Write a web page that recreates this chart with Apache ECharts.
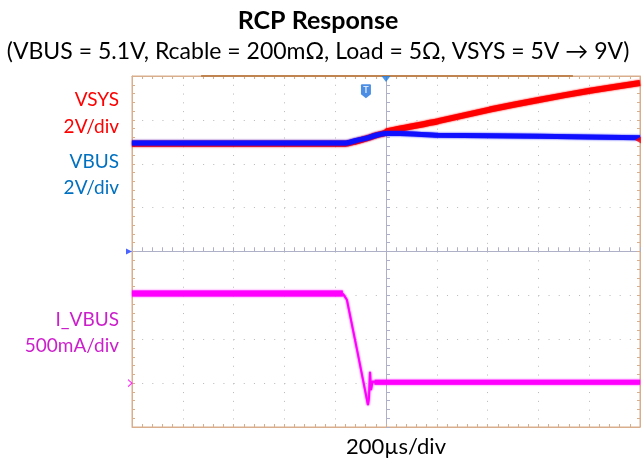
<!DOCTYPE html>
<html>
<head>
<meta charset="utf-8">
<title>RCP Response</title>
<script src="https://cdn.jsdelivr.net/npm/echarts@6/dist/echarts.min.js"></script>
<style>
    html, body { margin: 0; padding: 0; background: #fff; }
    #chart { width: 642px; height: 465px; }
</style>
</head>
<body>
<div id="chart"></div>
<script>
// Time axis in µs: 10 divisions of 200µs, trigger at 0
const timeRange = [-1000, 1000];
const timeStep = 200;
// Voltage channels: 2V/div, ground on the centre line
const voltRange = [-8, 8];
const voltStep = 2;
// Current channel: 500mA/div, ground 3 divisions below centre
const ampRange = [-0.5, 3.5];
const ampStep = 0.5;

// [time µs, volts]
const vsysTrace = [
    [-1000, 4.91], [-160, 4.91], [-120, 5.01], [-80, 5.14], [-40, 5.29], [0, 5.42],
    [4, 5.48], [205, 5.94], [409, 6.47], [606, 6.92], [803, 7.33], [1000, 7.68]
];
const vbusTrace = [
    [-1000, 4.95], [-157, 4.95], [-118, 5.06], [-75, 5.17], [-35, 5.31], [0, 5.38],
    [55, 5.38], [205, 5.30], [606, 5.25], [1000, 5.18]
];
// [time µs, amps]
const ibusBefore = [[-1000, 1.02], [-170, 1.02]];
const ibusStep = [
    [-170, 1.02], [-154, 0.95], [-112, 0.35], [-71, -0.25], [-67, -0.17],
    [-63, 0.13], [-59, -0.08], [-53, 0.02], [-43, 0.01]
];
const ibusAfter = [[-45, 0.01], [1000, 0.01]];

// scope decorations
const recordWindow = [[-728, 8], [736, 8]];
const triggerLevel = 5.08;
const triggerIconAt = [-79, 7.3];

const chartEl = document.getElementById('chart');
const chart = echarts.init(chartEl, null, { renderer: 'canvas' });

const centreColor = '#aeb0c8';
const frameColor = '#d9ae8c';
const dotColor = '#b8b8b8';
const font = 'Lato, "Noto Sans", sans-serif';

function traceSeries(name, data, color, width, yAxisIndex, smooth) {
    return {
        name: name,
        type: 'line',
        data: data,
        xAxisIndex: 0,
        yAxisIndex: yAxisIndex,
        showSymbol: false,
        symbol: 'none',
        smooth: smooth || false,
        silent: true,
        z: 5,
        lineStyle: {
            color: color,
            width: width,
            shadowColor: color,
            shadowBlur: 2
        }
    };
}

function marker(data, symbol, size, rotate, offset, color, yAxisIndex, extra) {
    return Object.assign({
        type: 'scatter',
        data: data,
        xAxisIndex: 0,
        yAxisIndex: yAxisIndex,
        symbol: symbol,
        symbolSize: size,
        symbolRotate: rotate,
        symbolOffset: offset,
        clip: false,
        silent: true,
        z: 8,
        itemStyle: { color: color }
    }, extra || {});
}

// centre cross: axis line + ticks on one side; the twin axis adds ticks on the other side
function centreAxis(range, step, inside, split, dash) {
    return {
        type: 'value',
        min: range[0],
        max: range[1],
        interval: step,
        axisLine: { show: true, onZero: true, onZeroAxisIndex: 0, lineStyle: { color: centreColor, width: 1 } },
        axisTick: { show: true, inside: inside, length: 4, lineStyle: { color: centreColor } },
        minorTick: { show: true, splitNumber: 5, length: 4, lineStyle: { color: centreColor } },
        axisLabel: { show: false },
        splitLine: { show: split, lineStyle: { color: dotColor, width: 1, type: dash } }
    };
}

function frameAxis(range, step, position) {
    return {
        type: 'value',
        position: position,
        min: range[0],
        max: range[1],
        interval: step,
        axisLine: { show: true, onZero: false, lineStyle: { color: frameColor, width: 1 } },
        axisTick: { show: true, inside: true, length: 3, lineStyle: { color: frameColor } },
        minorTick: { show: true, splitNumber: 5, length: 3, lineStyle: { color: frameColor } },
        axisLabel: { show: false },
        splitLine: { show: false }
    };
}

function label(text, x, y, color, size, weight, align) {
    return {
        type: 'text',
        x: x,
        y: y,
        silent: true,
        style: {
            text: text,
            fill: color,
            font: (weight || 'normal') + ' ' + size + 'px ' + font,
            textAlign: align || 'right',
            textVerticalAlign: 'middle'
        }
    };
}

const option = {
    animation: false,
    backgroundColor: '#ffffff',
    grid: { left: 132, right: 2, top: 76, bottom: 38, show: true, borderColor: frameColor, borderWidth: 1 },
    xAxis: [
        centreAxis(timeRange, timeStep, true, true, [1, 7.78]),
        centreAxis(timeRange, timeStep, false, false, 'solid'),
        frameAxis(timeRange, timeStep, 'top'),
        frameAxis(timeRange, timeStep, 'bottom')
    ],
    yAxis: [
        centreAxis(voltRange, voltStep, true, true, [1, 9.16]),
        centreAxis(voltRange, voltStep, false, false, 'solid'),
        frameAxis(voltRange, voltStep, 'left'),
        frameAxis(voltRange, voltStep, 'right'),
        { type: 'value', show: false, min: ampRange[0], max: ampRange[1], interval: ampStep }
    ],
    graphic: [
        label('RCP Response', 318, 21, '#000000', 25, 'bold', 'center'),
        label('(VBUS = 5.1V, Rcable = 200mΩ, Load = 5Ω, VSYS = 5V → 9V)', 318, 52, '#000000', 23, 'normal', 'center'),
        label('VSYS', 119, 100, '#ff0000', 19),
        label('2V/div', 119, 127, '#ff0000', 19),
        label('VBUS', 119, 162, '#0070c0', 19),
        label('2V/div', 119, 188, '#0070c0', 19),
        label('I_VBUS', 119, 320, '#cc1fcc', 19),
        label('500mA/div', 119, 346, '#cc1fcc', 19),
        label('200µs/div', 396, 447, '#000000', 22, 'normal', 'center')
    ],
    series: [
        {
            type: 'line',
            data: recordWindow,
            xAxisIndex: 0,
            yAxisIndex: 0,
            symbol: 'none',
            clip: false,
            silent: true,
            z: 3,
            lineStyle: { color: '#bf8450', width: 2 }
        },
        traceSeries('VSYS', vsysTrace, '#ff0000', 6, 0, 0.2),
        traceSeries('VBUS', vbusTrace, '#1010ff', 5, 0, 0.2),
        traceSeries('I_VBUS', ibusBefore, '#ff00ff', 6, 4),
        traceSeries('I_VBUS step', ibusStep, '#ff00ff', 2, 4),
        traceSeries('I_VBUS', ibusAfter, '#ff00ff', 5, 4),
        // channel ground / trigger markers
        marker([[timeRange[0], 0]], 'triangle', [6, 6], -90, [-3, 0], '#1e3cff', 0),
        marker([[timeRange[1], triggerLevel]], 'triangle', [7, 6], 90, [-2, 0], '#ff0000', 0),
        marker([[0, voltRange[1]]], 'triangle', [9, 6], 180, [0, 3], '#1e7ae0', 0),
        marker([[timeRange[0], 0]], 'path://M0,0 L8,5 L0,10', [4, 7], 0, [-2, 0], 'none', 4, {
            itemStyle: { color: 'none', borderColor: '#ff00ff', borderWidth: 1 }
        }),
        marker([triggerIconAt], 'path://M0,1 Q0,0 1,0 L9,0 Q10,0 10,1 L10,10 L5,14 L0,10 Z', [10, 14], 0, [0, 0], '#1e72dc', 0, {
            label: {
                show: true,
                position: 'inside',
                formatter: 'T',
                color: '#ffffff',
                fontSize: 9,
                fontWeight: 'bold',
                fontFamily: font,
                offset: [0, -1]
            }
        })
    ]
};

chart.setOption(option);
</script>
</body>
</html>
